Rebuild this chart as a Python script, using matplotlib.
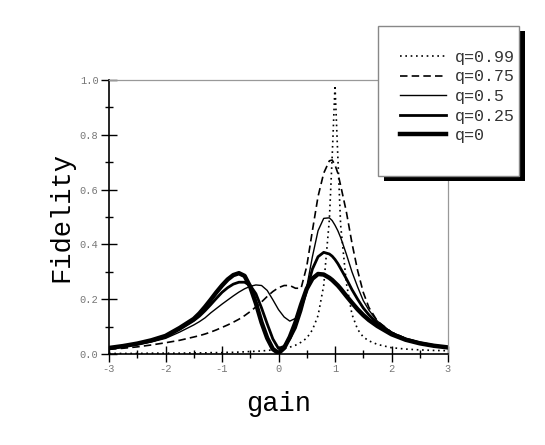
import numpy as np
import matplotlib
matplotlib.use("Agg")
import matplotlib.pyplot as plt
from matplotlib.patches import Rectangle

# gain values shared by all curves
gain = [-3, -2.75, -2.5, -2.25, -2, -1.75, -1.5,
        -1.4, -1.3, -1.2, -1.1, -1.0, -0.9, -0.8, -0.7, -0.6, -0.5, -0.4, -0.3, -0.2, -0.1,
        0, 0.1, 0.2, 0.3, 0.4, 0.5, 0.6, 0.7, 0.8, 0.9, 0.95, 1.0, 1.05, 1.1, 1.2, 1.3, 1.4, 1.5,
        1.6, 1.75, 2, 2.25, 2.5, 2.75, 3]

fid_q099 = [0.002, 0.002, 0.002, 0.003, 0.003, 0.003, 0.004,
            0.004, 0.004, 0.005, 0.005, 0.005, 0.006, 0.006, 0.007, 0.008, 0.009, 0.010, 0.011, 0.013, 0.015,
            0.017, 0.020, 0.025, 0.032, 0.043, 0.058, 0.088, 0.14, 0.25, 0.49, 0.72, 0.98, 0.72, 0.47, 0.26, 0.145, 0.09, 0.062,
            0.048, 0.035, 0.023, 0.018, 0.015, 0.013, 0.012]

fid_q075 = [0.017, 0.021, 0.026, 0.033, 0.041, 0.050, 0.062,
            0.067, 0.073, 0.080, 0.088, 0.097, 0.106, 0.116, 0.127, 0.140, 0.155, 0.172, 0.190, 0.210, 0.228,
            0.242, 0.250, 0.250, 0.240, 0.240, 0.320, 0.450, 0.575, 0.660, 0.705, 0.708, 0.690, 0.660, 0.615, 0.520, 0.405, 0.305, 0.225,
            0.170, 0.120, 0.080, 0.057, 0.042, 0.032, 0.025]

fid_q050 = [0.019, 0.026, 0.034, 0.044, 0.057, 0.080, 0.106,
            0.118, 0.132, 0.150, 0.166, 0.182, 0.197, 0.212, 0.226, 0.238, 0.247, 0.252, 0.250, 0.232, 0.198,
            0.162, 0.135, 0.120, 0.130, 0.175, 0.245, 0.355, 0.450, 0.495, 0.497, 0.487, 0.470, 0.450, 0.425, 0.365, 0.300, 0.245, 0.195,
            0.160, 0.120, 0.079, 0.056, 0.041, 0.031, 0.024]

fid_q025 = [0.021, 0.028, 0.037, 0.048, 0.062, 0.090, 0.122,
            0.138, 0.158, 0.180, 0.203, 0.225, 0.242, 0.255, 0.262, 0.262, 0.250, 0.220, 0.168, 0.110, 0.055,
            0.020, 0.028, 0.055, 0.095, 0.158, 0.235, 0.310, 0.355, 0.371, 0.365, 0.357, 0.345, 0.330, 0.312, 0.275, 0.235, 0.200, 0.168,
            0.143, 0.112, 0.077, 0.055, 0.041, 0.031, 0.024]

fid_q000 = [0.022, 0.029, 0.038, 0.050, 0.066, 0.095, 0.128,
            0.148, 0.172, 0.198, 0.225, 0.250, 0.272, 0.288, 0.295, 0.285, 0.245, 0.185, 0.115, 0.058, 0.018,
            0.003, 0.022, 0.062, 0.115, 0.180, 0.238, 0.275, 0.292, 0.290, 0.278, 0.270, 0.260, 0.250, 0.238, 0.212, 0.187, 0.163, 0.142,
            0.124, 0.102, 0.072, 0.052, 0.039, 0.030, 0.024]

labels = ["q=0.99", "q=0.75", "q=0.5", "q=0.25", "q=0"]

mono = "Liberation Mono"
plt.rcParams["axes.unicode_minus"] = False

fig = plt.figure(figsize=(5.45, 4.45), dpi=100)
ax = fig.add_axes([109 / 545, 91 / 445, 339 / 545, 274 / 445])

ax.plot(gain, fid_q099, color="black", lw=1.2, ls=(0, (1, 2.2)), label=labels[0])
ax.plot(gain, fid_q075, color="black", lw=1.2, ls=(0, (4.5, 2.5)), label=labels[1])
ax.plot(gain, fid_q050, color="black", lw=1.0, label=labels[2])
ax.plot(gain, fid_q025, color="black", lw=2.0, label=labels[3])
ax.plot(gain, fid_q000, color="black", lw=3.2, label=labels[4])

ax.set_xlim(-3, 3)
ax.set_ylim(0, 1)
ax.set_xticks(np.arange(-3, 4, 1))
ax.set_xticks(np.arange(-2.5, 3, 1), minor=True)
ax.set_yticks(np.arange(0, 1.01, 0.2))
ax.set_yticks(np.arange(0.1, 1.0, 0.2), minor=True)
ax.set_yticklabels(["0.0", "0.2", "0.4", "0.6", "0.8", "1.0"])
ax.set_xticklabels(["-3", "-2", "-1", "0", "1", "2", "3"])

ax.tick_params(which="major", direction="inout", length=11, width=1.0, color="black",
               labelsize=7.5, labelcolor="#777777", pad=2)
ax.tick_params(which="minor", direction="inout", length=6, width=1.0, color="black")
for lab in ax.get_xticklabels() + ax.get_yticklabels():
    lab.set_family(mono)

for side in ["left", "bottom"]:
    ax.spines[side].set_color("black")
    ax.spines[side].set_linewidth(1.2)
for side in ["top", "right"]:
    ax.spines[side].set_color("#999999")
    ax.spines[side].set_linewidth(0.9)

ax.set_xlabel("gain", family=mono, fontsize=19.5, labelpad=12)
ax.set_ylabel("Fidelity", family=mono, fontsize=19.5, labelpad=4)

# legend frame with hard black shadow
shadow = Rectangle((384 / 545, 1 - 181 / 445), 141 / 545, 150 / 445,
                   transform=fig.transFigure, facecolor="black", edgecolor="none", zorder=3)
frame = Rectangle((378 / 545, 1 - 176 / 445), 141 / 545, 150 / 445,
                  transform=fig.transFigure, facecolor="white", edgecolor="#888888",
                  lw=1.0, zorder=3.5)
fig.patches.extend([shadow, frame])

handles, labs = ax.get_legend_handles_labels()
leg = fig.legend(handles, labs, loc="upper left", bbox_to_anchor=(400 / 545, 1 - 50 / 445),
                 frameon=False, prop={"family": mono, "size": 12}, handlelength=2.75,
                 handletextpad=0.55, labelspacing=0.27, borderpad=0, borderaxespad=0)
leg.set_zorder(5)
for t in leg.get_texts():
    t.set_color("#333333")

fig.savefig("out.png", dpi=100)
